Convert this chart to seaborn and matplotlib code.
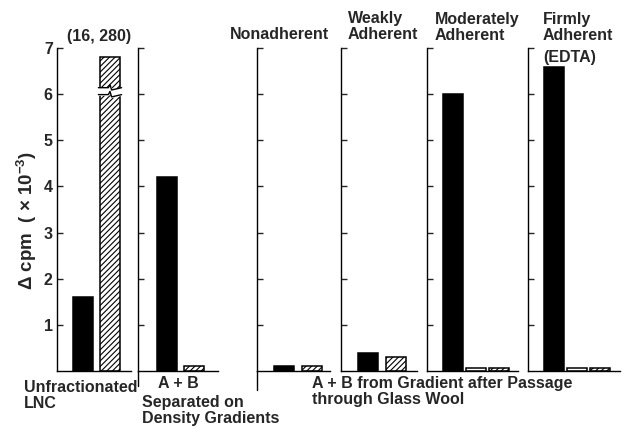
import numpy as np
import pandas as pd
import matplotlib
matplotlib.use("Agg")
import matplotlib.pyplot as plt
import seaborn as sns

# Delta cpm (x 10^-3) per fraction
conds_two = ["solid", "hatched"]
conds_three = ["solid", "open", "hatched"]
unfractionated = [1.6, 16.28]
separated = [4.2, 0.1]
nonadherent = [0.1, 0.1]
weakly = [0.38, 0.3]
moderately = [6.0, 0.07, 0.07]
firmly = [6.58, 0.07, 0.07]

panel_values = [unfractionated, separated, nonadherent, weakly, moderately, firmly]
panel_conds = [conds_two, conds_two, conds_two, conds_two, conds_three, conds_three]
fills = {"solid": "black", "open": "white", "hatched": "white"}

yticks = [1, 2, 3, 4, 5, 6, 7]
ylabel = "Δ cpm  ( × 10$^{-3}$)"
BREAK_TOP = 6.8  # broken bar is drawn up to here

sns.set_style("ticks")
plt.rcParams["font.family"] = ["Liberation Sans", "DejaVu Sans"]
plt.rcParams["font.weight"] = "bold"
plt.rcParams["mathtext.fontset"] = "custom"
plt.rcParams["mathtext.rm"] = "Liberation Sans:bold"
plt.rcParams["mathtext.it"] = "Liberation Sans:bold"
plt.rcParams["hatch.linewidth"] = 0.8
plt.rcParams["axes.edgecolor"] = "black"

W, H = 633, 430
AX_TOP, AX_BOT = 48, 371
# left px, right px, first bar centre px, category spacing px
layout = [
    (57, 131, 83, 27),
    (138, 218, 167, 27),
    (257, 330, 283.5, 28.5),
    (341, 417, 367.5, 28.5),
    (427, 518, 452.5, 23),
    (528, 620, 553.5, 23),
]
BAR_PX = 20

fig = plt.figure(figsize=(W / 100, H / 100), dpi=100)
axes = []
for i, (vals, conds) in enumerate(zip(panel_values, panel_conds)):
    left, right, c0, unit = layout[i]
    ax = fig.add_axes([left / W, 1 - AX_BOT / H, (right - left) / W, (AX_BOT - AX_TOP) / H])
    df = pd.DataFrame({"cond": conds, "val": np.minimum(vals, BREAK_TOP)})
    sns.barplot(
        data=df, x="cond", y="val", hue="cond", order=conds, hue_order=conds,
        palette=fills, saturation=1, edgecolor="black", linewidth=1.1,
        width=BAR_PX / unit, legend=False, ax=ax,
    )
    for bar in ax.patches:
        k = int(round(bar.get_x() + bar.get_width() / 2))
        if conds[k] == "hatched":
            bar.set_hatch("//////")
    ax.set_xlim((left - c0) / unit, (right - c0) / unit)
    ax.set_ylim(0, 7)
    ax.set_xlabel("")
    ax.set_ylabel("")
    ax.set_xticks([])
    ax.set_yticks(yticks)
    sns.despine(ax=ax)
    for s in ["left", "bottom"]:
        ax.spines[s].set_linewidth(1.0)
    ax.tick_params(axis="y", direction="in", length=4.5, width=1.0,
                   labelsize=11.5, labelleft=(i == 0), pad=3)
    axes.append(ax)

# axis-break on the off-scale hatched bar
ax0 = axes[0]
bar = [b for b in ax0.patches if int(round(b.get_x() + b.get_width() / 2)) == 1][0]
x0, w = bar.get_x(), bar.get_width()
lo, hi = 5.99, 6.14
zx = np.array([x0 - 0.08 * w, x0 + 0.42 * w, x0 + 0.5 * w, x0 + 0.58 * w, x0 + 1.08 * w])
zy = np.array([0.0, 0.0, 0.07, -0.05, 0.0])
ax0.fill_between(zx, lo + zy, hi + zy, color="white", zorder=5, clip_on=False)
ax0.plot(zx, lo + zy, color="black", lw=1.0, zorder=6, clip_on=False)
ax0.plot(zx, hi + zy, color="black", lw=1.0, zorder=6, clip_on=False)

# y-axes running below the baseline
for ax, depth in [(axes[1], -0.32), (axes[2], -0.42)]:
    xl = ax.get_xlim()[0]
    ax.plot([xl, xl], [0, depth], color="black", lw=1.0, clip_on=False)


def px(x, y):
    return x / W, 1 - y / H


big = unfractionated[1]
# y given is the baseline of the last line
txt = dict(fontsize=11.5, fontweight="bold", ha="left", va="baseline", linespacing=1.05)
fig.text(*px(67, 41), f"({int(big)}, {int(round(big * 1000)) % 1000:03d})", **txt)
fig.text(*px(230, 39), "Nonadherent", **txt)
fig.text(*px(348, 39), "Weakly\nAdherent", **txt)
fig.text(*px(435, 40), "Moderately\nAdherent", **txt)
fig.text(*px(543, 40), "Firmly\nAdherent", **txt)
fig.text(*px(543, 62), "(EDTA)", **txt)

fig.text(*px(24, 408), "Unfractionated\nLNC", **txt)
fig.text(*px(158, 388), "A + B", **txt)
fig.text(*px(142, 423), "Separated on\nDensity Gradients", **txt)
fig.text(*px(312, 404), "A + B from Gradient after Passage\nthrough Glass Wool", **txt)

fig.text(*px(27, 220), ylabel, rotation=90, ha="center", va="center",
         fontsize=13.5, fontweight="bold")

fig.savefig("out.png", dpi=100)
